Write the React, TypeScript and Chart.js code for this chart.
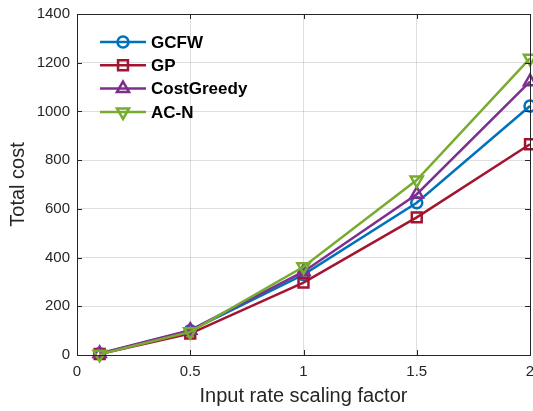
import React, { useEffect, useRef } from 'react';
import { Chart, registerables } from 'chart.js';

Chart.register(...registerables);

// ---- data ----
const xValues = [0.1, 0.5, 1, 1.5, 2];
const gcfwValues = [5, 100, 330, 625, 1022];
const gpValues = [4, 88, 297, 565, 865];
const costGreedyValues = [6, 102, 342, 660, 1122];
const acnValues = [3, 95, 362, 718, 1218];
const seriesNames = ['GCFW', 'GP', 'CostGreedy', 'AC-N'];
const xTickValues = [0, 0.5, 1, 1.5, 2];
const xTickLabels = ['0', '0.5', '1', '1.5', '2'];
const yTickValues = [0, 200, 400, 600, 800, 1000, 1200, 1400];
const yTickLabels = ['0', '200', '400', '600', '800', '1000', '1200', '1400'];
const xAxisTitle = 'Input rate scaling factor';
const yAxisTitle = 'Total cost';

// ---- styles ----
const seriesColors = ['#0072BD', '#A2142F', '#7E2F8E', '#77AC30'];
const seriesMarkers = ['circle', 'rect', 'triangle', 'triangle'];
const seriesRotation = [0, 0, 0, 180];
const seriesRadius = [5.5, 7, 7, 7];
const FONT = '"Liberation Sans", Arial, Helvetica, sans-serif';
const AXIS_COLOR = '#262626';
const GRID_COLOR = 'rgba(38,38,38,0.15)';

const boxTicksPlugin = {
  id: 'boxTicks',
  afterDraw(chart: any) {
    const { ctx, chartArea } = chart;
    const { left, right, top, bottom } = chartArea;
    const xs = chart.scales.x;
    const ys = chart.scales.y;
    const tl = 5;
    ctx.save();
    ctx.strokeStyle = AXIS_COLOR;
    ctx.lineWidth = 1;
    ctx.beginPath();
    ctx.moveTo(Math.round(left) + 0.5, Math.round(top) + 0.5);
    ctx.lineTo(Math.round(right) + 0.5, Math.round(top) + 0.5);
    ctx.lineTo(Math.round(right) + 0.5, Math.round(bottom) + 0.5);
    ctx.lineTo(Math.round(left) + 0.5, Math.round(bottom) + 0.5);
    ctx.closePath();
    xTickValues.forEach((v) => {
      const px = Math.round(xs.getPixelForValue(v)) + 0.5;
      ctx.moveTo(px, bottom);
      ctx.lineTo(px, bottom - tl);
      ctx.moveTo(px, top);
      ctx.lineTo(px, top + tl);
    });
    yTickValues.forEach((v) => {
      const py = Math.round(ys.getPixelForValue(v)) + 0.5;
      ctx.moveTo(left, py);
      ctx.lineTo(left + tl, py);
      ctx.moveTo(right, py);
      ctx.lineTo(right - tl, py);
    });
    ctx.stroke();
    ctx.restore();
  },
};

function drawMarker(ctx: CanvasRenderingContext2D, kind: number, x: number, y: number) {
  ctx.beginPath();
  if (kind === 0) {
    ctx.arc(x, y, 5.5, 0, Math.PI * 2);
  } else if (kind === 1) {
    const s = 7 * Math.SQRT1_2;
    ctx.rect(x - s, y - s, 2 * s, 2 * s);
  } else {
    const r = 7;
    let rad = kind === 3 ? Math.PI : 0;
    ctx.moveTo(x + Math.sin(rad) * r, y - Math.cos(rad) * r);
    for (let k = 0; k < 2; k++) {
      rad += (2 * Math.PI) / 3;
      ctx.lineTo(x + Math.sin(rad) * r, y - Math.cos(rad) * r);
    }
    ctx.closePath();
  }
  ctx.stroke();
}

const legendPlugin = {
  id: 'customLegend',
  afterDraw(chart: any) {
    const { ctx } = chart;
    ctx.save();
    const x0 = 100;
    const x1 = 146;
    const textX = 151;
    const y0 = 42;
    const dy = 23.3;
    seriesNames.forEach((name, i) => {
      const y = y0 + i * dy;
      ctx.strokeStyle = seriesColors[i];
      ctx.lineWidth = 2.5;
      ctx.beginPath();
      ctx.moveTo(x0, y);
      ctx.lineTo(x1, y);
      ctx.stroke();
      drawMarker(ctx, i, (x0 + x1) / 2, y);
      ctx.fillStyle = '#000000';
      ctx.font = 'bold 17px ' + FONT;
      ctx.textBaseline = 'middle';
      ctx.textAlign = 'left';
      ctx.fillText(name, textX, y + 1);
    });
    ctx.restore();
  },
};

export default function App() {
  const canvasRef = useRef<HTMLCanvasElement | null>(null);

  useEffect(() => {
    document.body.style.margin = '0';
    const canvas = canvasRef.current;
    if (!canvas) return;
    const seriesValues = [gcfwValues, gpValues, costGreedyValues, acnValues];
    const datasets = seriesNames.map((name, i) => ({
      label: name,
      data: xValues.map((x, j) => ({ x, y: seriesValues[i][j] })),
      borderColor: seriesColors[i],
      backgroundColor: seriesColors[i],
      borderWidth: 2.5,
      pointStyle: seriesMarkers[i] as any,
      pointRotation: seriesRotation[i],
      pointRadius: seriesRadius[i],
      pointBorderWidth: 2.5,
      pointBorderColor: seriesColors[i],
      pointBackgroundColor: 'rgba(0,0,0,0)',
      tension: 0,
      clip: false as any,
      order: seriesNames.length - 1 - i,
    }));

    const chart = new Chart(canvas, {
      type: 'line',
      data: { datasets },
      options: {
        animation: false,
        responsive: false,
        maintainAspectRatio: false,
        layout: { autoPadding: false, padding: { top: 14, right: 3, left: 0, bottom: 0 } },
        plugins: {
          legend: { display: false },
          tooltip: { enabled: false },
        },
        scales: {
          x: {
            type: 'linear',
            min: 0,
            max: 2,
            afterFit: (s: any) => {
              s.height = 56;
              s.paddingLeft = 0;
              s.paddingRight = 0;
            },
            afterBuildTicks: (s: any) => {
              s.ticks = xTickValues.map((v) => ({ value: v }));
            },
            ticks: {
              color: AXIS_COLOR,
              font: { family: FONT, size: 15 },
              padding: 8,
              maxRotation: 0,
              callback: (_v: any, idx: number) => xTickLabels[idx],
            },
            grid: { color: GRID_COLOR, drawTicks: false, lineWidth: 1 },
            border: { display: true, color: AXIS_COLOR, width: 1 },
            title: {
              display: true,
              text: xAxisTitle,
              color: AXIS_COLOR,
              font: { family: FONT, size: 20 },
              padding: { top: 0, bottom: 3 },
            },
          },
          y: {
            type: 'linear',
            min: 0,
            max: 1400,
            afterFit: (s: any) => {
              s.width = 77;
              s.paddingTop = 0;
              s.paddingBottom = 0;
            },
            afterBuildTicks: (s: any) => {
              s.ticks = yTickValues.map((v) => ({ value: v }));
            },
            ticks: {
              color: AXIS_COLOR,
              font: { family: FONT, size: 15 },
              padding: 7,
              callback: (_v: any, idx: number) => yTickLabels[idx],
            },
            grid: { color: GRID_COLOR, drawTicks: false, lineWidth: 1 },
            border: { display: true, color: AXIS_COLOR, width: 1 },
            title: {
              display: true,
              text: yAxisTitle,
              color: AXIS_COLOR,
              font: { family: FONT, size: 20 },
              padding: { top: 6, bottom: 0 },
            },
          },
        },
      },
      plugins: [boxTicksPlugin, legendPlugin],
    });
    return () => chart.destroy();
  }, []);

  return (
    <div style={{ position: 'absolute', left: 0, top: 0, width: 533, height: 411, background: '#fff' }}>
      <canvas ref={canvasRef} width={533} height={411} />
    </div>
  );
}
